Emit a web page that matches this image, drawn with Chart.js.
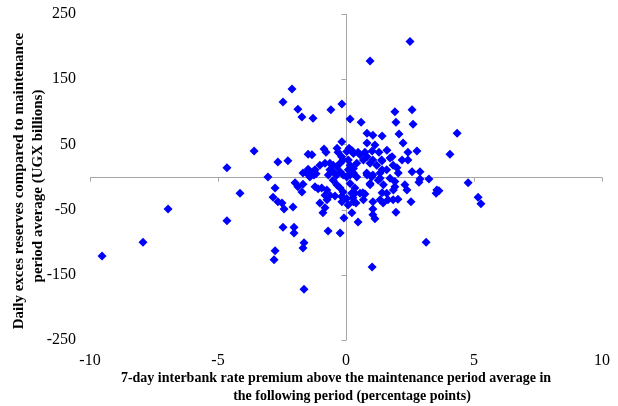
<!DOCTYPE html>
<html>
<head>
<meta charset="utf-8">
<script src="https://cdn.jsdelivr.net/npm/chart.js@4"></script>
<style>
  body { margin: 0; background: #fff; }
  #wrap { width: 618px; height: 406px; }
</style>
</head>
<body>
<div id="wrap"><canvas id="chart" width="618" height="406"></canvas></div>
<script>
// 7-day interbank rate premium (percentage points)
const premium = [
	-9.53, -7.93, -6.95, -4.65, -4.65, -4.14, -3.59, -3.05,
	-2.11, -2.46, -1.88, -1.72, -1.29, -0.59, -0.16, 0.16, 0.59, 1.91, 2.58, 1.95, 2.62, 2.5, 0.94,
	0.82, 1.05, 1.41, 2.07, 4.34, 4.06, -0.16, 0.82, 2.23,
	-2.66, -2.27, -1.48, -1.33, -0.86, -0.78, -0.35, -0.31, 0.12, 0.47, 0.74, 1.02, 1.29, 1.6, 2.42, 2.77, 1.8, 1.05, 1.41, 2.19, 2.42, 0.82, 0.55, 1.84, 1.99, -0.82, 1.13,
	-1.68, -1.48, -1.29, -1.41, -1.25, -1.17, 1.41, 2.58, 2.89, 0.82, 1.05, 1.33, 2.89, 2.85, 3.24, 3.55, 3.52, 3.63, 4.77, 5.16, 5.27,
	-2.77, -2.85, -2.66, -2.5, -2.42, -2.07, -2.46, -2.03, -2.03, -1.64, -1.68, -2.77, -2.81, -1.64, -1.99, -1.88, -1.68, -1.72, -1.21, -1.09, -1.02, -0.82, -0.9, -0.7, -0.23, -0.08, -0.43, -0.16, 0.08, 0.23, -0.82, -0.74,
	0.94, 1.91, 2.3, 2.38, 1.41, 0.74, 0.66, 0.35, 0.27, 0.39, 1.05, 1.45, 1.64, 1.84, 2.03, 2.54, 1.05, 1.05, 1.13, 1.95, 0.47, 3.13, 1.02,
	0.03, 0.22, 0.29, -0.17, -0.11, -0.23, -0.36, -0.5, -0.63, 0.09, 0.16, 0.29, 0.09, 0.42, 0.68, 0.94, 1.2, 1.39, 1.72,
	-1.54, -1.21, -1.02, -0.63, -0.5, -0.69, -0.36, -0.23, -0.11, 0.03, 0.16, 0.29, 0.42,
	-0.5, -0.36, -0.23, -0.11, -0.17, -0.75, -0.95, -0.63,
	0.81, 1.0, 1.26, 1.46, 0.94, 1.33, 1.59,
	0.16, 0.35, 0.22, 0.03, 0.29, 0.55, 0.68,
	1.72, 1.91, 2.04, 1.85, 1.59, 1.33
];

// Daily excess reserves vs maintenance period average (UGX billions)
const excessReserves = [
	-121, -100, -49, -67, 14, -25, 40, 0,
	135, 115, 104, 92, 90, 103, 112, 89, 84, 100, 103, 84, 81, 208, 178,
	67, 64, 63, 66, 67, 35, 54, 52, 52,
	23, 25, 35, 34, 43, 38, 44, 38, 44, 38, 38, 40, 38, 41, 38, 40, 31, 26, 25, 26, 26, 31, 34, 18, 14, 21, 49,
	6, 12, 8, 0, 3, 5, 11, 8, 8, 3, 3, -2, -3, -8, -3, -20, -25, -21, -9, -31, -41,
	-17, -31, -38, -40, -49, -46, -77, -77, -86, -101, -109, -113, -127, -172, -9, -15, -11, -23, -15, -18, -40, -47, -55, -83, -86, -63, -29, -38, -43, -55, -28, -35,
	-12, -15, -12, -20, -24, -26, -24, -25, -32, -40, -38, -40, -35, -35, -34, -38, -49, -58, -64, -54, -69, -100, -138,
	39, 41, 36, 31, 26, 21, 16, 18, 21, 26, 18, 13, 11, 21, 26, 21, 18, 26, 29,
	6, 11, 18, 11, 8, 3, 3, 8, 3, 0, 3, 6, 0,
	-5, -12, -17, -23, -30, -20, -17, -28,
	6, 0, -5, -12, -10, 6, 11,
	-10, -17, -25, -33, -38, -25, -35,
	-2, -7, 6, -20, -25, -35
];

const xTicks = [ -10, -5, 0, 5, 10 ];
const yTicks = [ -250, -150, -50, 50, 150, 250 ];

const xTitle = [
	'7-day interbank rate premium above the maintenance period average in',
	'the following period (percentage points)'
];
const yTitle = [
	'Daily exces reserves compared to maintenance',
	'period average (UGX billions)'
];

const serif = '"Liberation Serif", "Times New Roman", serif';

// Excel style axes that cross at zero, plus the two axis titles
const zeroAxes = {
	id: 'zeroAxes',
	beforeDatasetsDraw: function ( chart ) {
		const ctx = chart.ctx;
		const area = chart.chartArea;
		const x = chart.scales.x;
		const y = chart.scales.y;
		const x0 = Math.round( x.getPixelForValue( 0 ) ) + 0.5;
		const y0 = Math.round( y.getPixelForValue( 0 ) ) + 0.5;
		ctx.save();
		ctx.strokeStyle = '#a6a6a6';
		ctx.lineWidth = 1;
		ctx.beginPath();
		ctx.moveTo( area.left, y0 );
		ctx.lineTo( area.right, y0 );
		ctx.moveTo( x0, area.top );
		ctx.lineTo( x0, area.bottom );
		xTicks.forEach( function ( v ) {
			const px = Math.round( x.getPixelForValue( v ) ) + 0.5;
			ctx.moveTo( px, y0 );
			ctx.lineTo( px, y0 + 4 );
		} );
		yTicks.forEach( function ( v ) {
			const py = Math.round( y.getPixelForValue( v ) ) + 0.5;
			ctx.moveTo( x0 - 5, py );
			ctx.lineTo( x0, py );
		} );
		ctx.stroke();
		ctx.restore();
	},
	afterDraw: function ( chart ) {
		const ctx = chart.ctx;
		ctx.save();
		ctx.fillStyle = '#000';
		ctx.textAlign = 'center';
		ctx.textBaseline = 'middle';
		ctx.font = 'bold 14px ' + serif;
		ctx.fillText( xTitle[ 0 ], 336, 378 );
		ctx.fillText( xTitle[ 1 ], 352, 396 );
		ctx.font = 'bold 15px ' + serif;
		ctx.translate( 19, 0 );
		ctx.rotate( -Math.PI / 2 );
		ctx.fillText( yTitle[ 0 ], -181, 0 );
		ctx.fillText( yTitle[ 1 ], -186, 19 );
		ctx.restore();
	}
};

const points = premium.map( ( v, i ) => ( { x: v, y: excessReserves[ i ] } ) );

new Chart( document.getElementById( 'chart' ), {
	type: 'scatter',
	data: {
		datasets: [ {
			data: points,
			pointStyle: 'rectRot',
			pointRadius: 4.5,
			pointBorderWidth: 0,
			backgroundColor: '#0000ff',
			borderColor: '#0000ff'
		} ]
	},
	options: {
		responsive: false,
		animation: false,
		layout: { padding: { top: 14, right: 16, left: 0, bottom: 0 } },
		plugins: {
			legend: { display: false },
			tooltip: { enabled: false }
		},
		scales: {
			x: {
				type: 'linear',
				min: -10,
				max: 10,
				grid: { display: false, drawTicks: false },
				border: { display: false },
				afterBuildTicks: function ( scale ) {
					scale.ticks = xTicks.map( ( v ) => ( { value: v } ) );
				},
				afterFit: function ( scale ) {
					scale.height = 66;
					scale.paddingLeft = 0;
					scale.paddingRight = 0;
				},
				ticks: {
					padding: 11,
					color: '#000',
					maxRotation: 0,
					font: { family: serif, size: 16 }
				}
			},
			y: {
				type: 'linear',
				min: -250,
				max: 250,
				grid: { display: false, drawTicks: false },
				border: { display: false },
				afterBuildTicks: function ( scale ) {
					scale.ticks = yTicks.map( ( v ) => ( { value: v } ) );
				},
				afterFit: function ( scale ) {
					scale.width = 90;
					scale.paddingTop = 0;
					scale.paddingBottom = 0;
				},
				ticks: {
					padding: 14,
					color: '#000',
					font: { family: serif, size: 16 }
				}
			}
		}
	},
	plugins: [ zeroAxes ]
} );
</script>
</body>
</html>
